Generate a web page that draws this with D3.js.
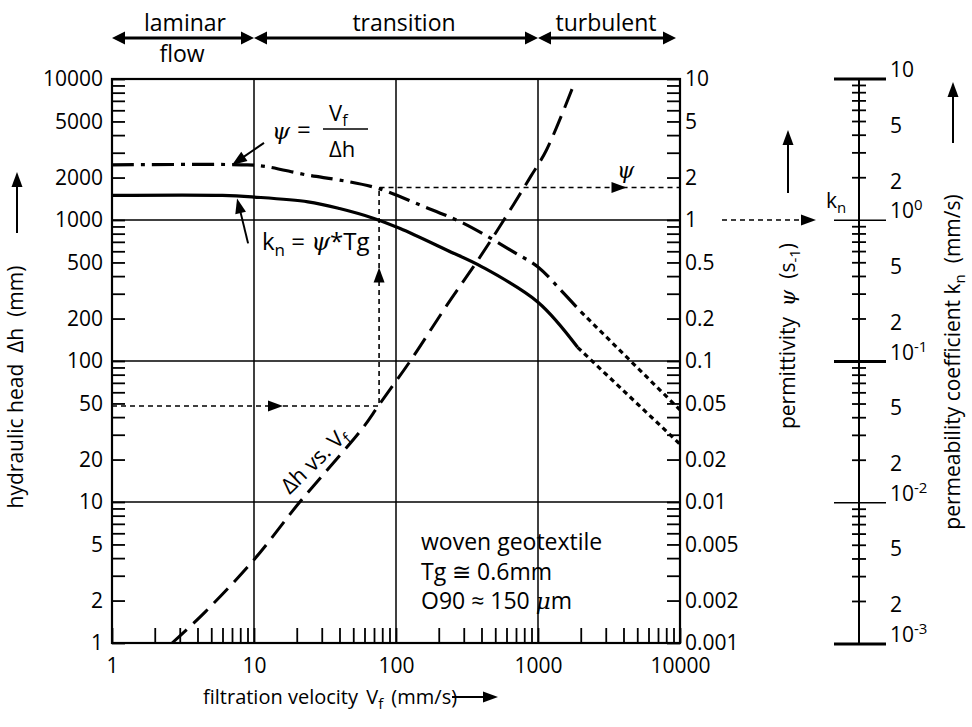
<!DOCTYPE html>
<html>
<head>
<meta charset="utf-8">
<script src="https://cdn.jsdelivr.net/npm/d3@7"></script>
<style>
  body { margin: 0; background: #fff; }
  svg { font-family: "Open Sans", sans-serif; }
  svg text { white-space: pre; }
</style>
</head>
<body>
<svg id="chart" width="972" height="727"></svg>
<script>
// ---- data ----
const velTicks = [1, 10, 100, 1000, 10000];
const headTicks = [10000, 5000, 2000, 1000, 500, 200, 100, 50, 20, 10, 5, 2, 1];
const psiTicks = [10, 5, 2, 1, 0.5, 0.2, 0.1, 0.05, 0.02, 0.01, 0.005, 0.002, 0.001];
const gridVel = [10, 100, 1000];
const gridHead = [10, 100, 1000];

const knDecades = [10, 1, 0.1, 0.01, 0.001];
const knDecadeSup = [null, "0", "-1", "-2", "-3"];
const knMidTicks = [5, 2, 0.5, 0.2, 0.05, 0.02, 0.005, 0.002];

const regionNames = ["laminar", "transition", "turbulent"];
const regionBounds = [1, 10, 1000, 10000];

// permeability kn = psi * Tg (mm/s), solid part then dotted tail
const knVel = [1, 6, 10, 24, 40, 70, 107, 229, 400, 1000, 1900];
const knVal = [1.50, 1.50, 1.46, 1.35, 1.21, 1.03, 0.873, 0.613, 0.47, 0.263, 0.126];
const knTailVel = [1900, 10000];
const knTailVal = [0.126, 0.026];

// permittivity psi (1/s), dash-dot part then dotted tail
const psiVel = [1, 9, 12, 24, 40, 74, 150, 297, 700, 1000, 1440, 2000];
const psiVal = [2.46, 2.46, 2.40, 2.08, 1.92, 1.68, 1.27, 0.95, 0.58, 0.465, 0.32, 0.224];
const psiTailVel = [2000, 10000];
const psiTailVal = [0.224, 0.045];

// hydraulic head vs filtration velocity (mm)
const dhVel = [2.65, 4.5, 10, 21, 31, 59, 75, 126, 229, 373, 575, 887, 1150, 1800];
const dhVal = [1, 1.65, 3.9, 10, 15.8, 34, 48, 100, 250, 510, 1000, 2030, 3150, 9300];

// worked example (dashed arrows)
const exVel = 76, exHead = 48, exPsi = 1.7;

// ---- scales ----
const x = d3.scaleLog().domain([1, 1e4]).range([112, 680]);
const yH = d3.scaleLog().domain([1, 1e4]).range([643, 79]);
const yP = d3.scaleLog().domain([1e-3, 10]).range([643, 79]);
const yK = d3.scaleLog().domain([1e-3, 10]).range([644, 79]);

const svg = d3.select("#chart");
svg.append("rect").attr("width", 972).attr("height", 727).attr("fill", "#fff");

function head(g, px, py, ang, len = 14, wid = 11) {
  g.append("path")
    .attr("d", `M0,0L${-len},${-wid / 2}L${-len},${wid / 2}Z`)
    .attr("transform", `translate(${px},${py}) rotate(${ang})`)
    .attr("fill", "#000");
}

const [x0, x1] = x.range();
const [y0, y1] = yH.range();

// ---- grid and frame ----
const grid = svg.append("g").attr("stroke", "#000").attr("stroke-width", 1.5);
grid.selectAll(".gv").data(gridVel).join("line")
  .attr("x1", d => x(d)).attr("x2", d => x(d)).attr("y1", y0).attr("y2", y1);
grid.selectAll(".gh").data(gridHead).join("line")
  .attr("y1", d => yH(d)).attr("y2", d => yH(d)).attr("x1", x0).attr("x2", x1);

svg.append("rect")
  .attr("x", x0).attr("y", y1).attr("width", x1 - x0).attr("height", y0 - y1)
  .attr("fill", "none").attr("stroke", "#000").attr("stroke-width", 2.2);

// ---- axis ticks (inward) ----
function tickStyle(sel) {
  sel.select(".domain").remove();
  sel.selectAll(".tick line").attr("stroke-width", 1.8);
}
svg.append("g").attr("transform", `translate(${x0},0)`)
  .call(d3.axisRight(yH).tickValues(yH.ticks()).tickSize(13).tickFormat(""))
  .call(tickStyle);
svg.append("g").attr("transform", `translate(${x1},0)`)
  .call(d3.axisLeft(yP).tickValues(yP.ticks()).tickSize(13).tickFormat(""))
  .call(tickStyle);
svg.append("g").attr("transform", `translate(0,${y0})`)
  .call(d3.axisTop(x).tickValues(x.ticks()).tickSize(15).tickFormat(""))
  .call(tickStyle);

// ---- tick labels ----
function labelStyle(sel) {
  sel.select(".domain").remove();
  sel.selectAll(".tick line").remove();
  sel.selectAll("text").attr("font-size", 21).attr("font-family", "Open Sans").attr("fill", "#000");
}
svg.append("g").attr("transform", `translate(${x0},0)`)
  .call(d3.axisLeft(yH).tickValues(headTicks).tickSize(0).tickPadding(9).tickFormat(d3.format("d")))
  .call(labelStyle);
svg.append("g").attr("transform", `translate(${x1},0)`)
  .call(d3.axisRight(yP).tickValues(psiTicks).tickSize(0).tickPadding(5).tickFormat(d => String(d)))
  .call(labelStyle);
svg.append("g").attr("transform", `translate(0,${y0})`)
  .call(d3.axisBottom(x).tickValues(velTicks).tickSize(0).tickPadding(15).tickFormat(d3.format("d")))
  .call(labelStyle);

// ---- curves ----
const lineOf = (ys) => d3.line().x(d => x(d[0])).y(d => ys(d[1])).curve(d3.curveCatmullRom.alpha(0.5));
const zip = (a, b) => a.map((v, i) => [v, b[i]]);

svg.append("path").datum(zip(knVel, knVal)).attr("d", lineOf(yK))
  .attr("fill", "none").attr("stroke", "#000").attr("stroke-width", 3.2);
svg.append("path").datum(zip(knTailVel, knTailVal)).attr("d", lineOf(yK))
  .attr("fill", "none").attr("stroke", "#000").attr("stroke-width", 3.2)
  .attr("stroke-dasharray", "5,4");

svg.append("path").datum(zip(psiVel, psiVal)).attr("d", lineOf(yP))
  .attr("fill", "none").attr("stroke", "#000").attr("stroke-width", 3.2)
  .attr("stroke-dasharray", "22,7,4,7");
svg.append("path").datum(zip(psiTailVel, psiTailVal)).attr("d", lineOf(yP))
  .attr("fill", "none").attr("stroke", "#000").attr("stroke-width", 3.2)
  .attr("stroke-dasharray", "5,4");

svg.append("path").datum(zip(dhVel, dhVal)).attr("d", lineOf(yH))
  .attr("fill", "none").attr("stroke", "#000").attr("stroke-width", 3)
  .attr("stroke-dasharray", "20,9");

// ---- worked example, dashed arrows ----
const ex = svg.append("g");
const exPath = [[1, exHead], [exVel, exHead], [exVel, exPsi * 1000], [1e4, exPsi * 1000]];
ex.append("path")
  .attr("d", d3.line().x(d => x(d[0])).y(d => yH(d[1]))(exPath))
  .attr("fill", "none").attr("stroke", "#000").attr("stroke-width", 1.6)
  .attr("stroke-dasharray", "5,4");
head(ex, x(16), yH(exHead), 0, 15, 11);
head(ex, x(exVel), yH(460), -90, 15, 11);
head(ex, x(4200), yH(exPsi * 1000), 0, 15, 11);
// to the kn scale
ex.append("line").attr("x1", 722).attr("x2", 806).attr("y1", yP(1)).attr("y2", yP(1))
  .attr("stroke", "#000").attr("stroke-width", 1.6).attr("stroke-dasharray", "5,4");
head(ex, 816, yP(1), 0, 15, 11);

svg.append("text").attr("x", 617).attr("y", yP(exPsi) - 10)
  .attr("font-family", "DejaVu Serif").attr("font-style", "italic").attr("font-size", 22)
  .text("ψ");

// ---- pointer annotations ----
const ann = svg.append("g");
{
  const tx = x(7), ty = yP(2.46);
  ann.append("line").attr("x1", tx + 32).attr("y1", ty - 22).attr("x2", tx + 8).attr("y2", ty - 5.5)
    .attr("stroke", "#000").attr("stroke-width", 2);
  head(ann, tx, ty, Math.atan2(22, -32) * 180 / Math.PI, 15, 11);
}
{
  const tx = x(7.6), ty = yK(1.5) + 3;
  ann.append("line").attr("x1", tx + 11).attr("y1", ty + 45).attr("x2", tx + 3).attr("y2", ty + 12)
    .attr("stroke", "#000").attr("stroke-width", 2);
  head(ann, tx, ty, Math.atan2(-45, -11) * 180 / Math.PI, 15, 11);
}

// psi = Vf / dh
const f = svg.append("g").attr("font-size", 24).attr("fill", "#000");
f.append("text").attr("x", 272).attr("y", 139).attr("font-family", "DejaVu Serif")
  .attr("font-style", "italic").attr("font-size", 23).text("ψ");
f.append("text").attr("x", 297).attr("y", 138).text("=");
f.append("line").attr("x1", 323).attr("x2", 368).attr("y1", 129).attr("y2", 129)
  .attr("stroke", "#000").attr("stroke-width", 1.6);
{
  const t = f.append("text").attr("x", 329).attr("y", 121).attr("font-size", 22);
  t.append("tspan").text("V");
  t.append("tspan").attr("dy", 5).attr("font-size", 16).text("f");
}
f.append("text").attr("x", 329).attr("y", 157).attr("font-size", 22).text("Δh");

// kn = psi * Tg
{
  const t = f.append("text").attr("x", 262).attr("y", 250);
  t.append("tspan").text("k");
  t.append("tspan").attr("dy", 6).attr("font-size", 17).text("n");
  t.append("tspan").attr("dy", -6).text(" = ");
  t.append("tspan").attr("font-family", "DejaVu Serif").attr("font-style", "italic").text("ψ");
  t.append("tspan").text("*Tg");
}

// dh vs Vf along curve
{
  const t = svg.append("text").attr("font-size", 22)
    .attr("text-anchor", "middle")
    .attr("transform", `translate(${x(29)},${yH(18)}) rotate(-44)`);
  t.append("tspan").text("Δh vs. V");
  t.append("tspan").attr("dy", 5).attr("font-size", 16).text("f");
}

// geotextile note
const note = svg.append("g").attr("font-size", 23);
note.append("text").attr("x", 421).attr("y", 550).text("woven geotextile");
note.append("text").attr("x", 421).attr("y", 580).text("Tg ≅ 0.6mm");
{
  const t = note.append("text").attr("x", 421).attr("y", 609);
  t.append("tspan").text("O90 ≈ 150 ");
  t.append("tspan").attr("font-family", "DejaVu Serif").attr("font-style", "italic").text("μ");
  t.append("tspan").text("m");
}

// ---- flow regimes on top ----
const regimeG = svg.append("g");
const ay = 38;
regionNames.forEach((name, i) => {
  const a = x(regionBounds[i]), b = x(regionBounds[i + 1]) - (i === 2 ? 4 : 0);
  regimeG.append("line").attr("x1", a + 6).attr("x2", b - 6).attr("y1", ay).attr("y2", ay)
    .attr("stroke", "#000").attr("stroke-width", 3);
  head(regimeG, a, ay, 180, 13, 13);
  head(regimeG, b, ay, 0, 13, 13);
});
const regimeText = regimeG.append("g").attr("font-size", 23).attr("text-anchor", "middle");
regimeText.append("text").attr("x", 185).attr("y", 31).text("laminar");
regimeText.append("text").attr("x", 182).attr("y", 62).text("flow");
regimeText.append("text").attr("x", 404).attr("y", 31).text("transition");
regimeText.append("text").attr("x", 606).attr("y", 31).text("turbulent");

// ---- axis titles ----
{
  const t = svg.append("text").attr("font-size", 20).attr("x", 203).attr("y", 704);
  t.append("tspan").text("filtration velocity ");
  t.append("tspan").attr("dx", 3).text("V");
  t.append("tspan").attr("dy", 5).attr("font-size", 15).text("f");
  t.append("tspan").attr("dy", -5).attr("dx", 3).text(" (mm/s)");
  svg.append("line").attr("x1", 452).attr("x2", 484).attr("y1", 697).attr("y2", 697)
    .attr("stroke", "#000").attr("stroke-width", 2);
  head(svg, 498, 697, 0, 15, 11);
}
{
  svg.append("text").attr("font-size", 21).attr("text-anchor", "middle")
    .attr("transform", "translate(23,387) rotate(-90)")
    .text("hydraulic head  Δh  (mm)");
  svg.append("line").attr("x1", 17).attr("x2", 17).attr("y1", 233).attr("y2", 186)
    .attr("stroke", "#000").attr("stroke-width", 2);
  head(svg, 17, 172, -90, 15, 11);
}
{
  const t = svg.append("text").attr("font-size", 21).attr("text-anchor", "middle")
    .attr("transform", "translate(795,336) rotate(-90)");
  t.append("tspan").text("permittivity  ");
  t.append("tspan").attr("font-family", "DejaVu Serif").attr("font-style", "italic").text("ψ");
  t.append("tspan").text("  (s");
  t.append("tspan").attr("dy", 5).attr("font-size", 15).text("-1");
  t.append("tspan").attr("dy", -5).text(")");
  svg.append("line").attr("x1", 788).attr("x2", 788).attr("y1", 193).attr("y2", 144)
    .attr("stroke", "#000").attr("stroke-width", 2);
  head(svg, 788, 130, -90, 15, 11);
}
{
  const t = svg.append("text").attr("font-size", 21).attr("text-anchor", "middle")
    .attr("transform", "translate(960,362) rotate(-90)");
  t.append("tspan").text("permeability coefficient k");
  t.append("tspan").attr("dy", 5).attr("font-size", 15).text("n");
  t.append("tspan").attr("dy", -5).text("  (mm/s)");
  svg.append("line").attr("x1", 953).attr("x2", 953).attr("y1", 143).attr("y2", 96)
    .attr("stroke", "#000").attr("stroke-width", 2);
  head(svg, 953, 82, -90, 15, 11);
}

// ---- kn scale on the far right ----
const ks = svg.append("g");
const kx = 859;
ks.append("line").attr("x1", kx).attr("x2", kx).attr("y1", yK(10)).attr("y2", yK(0.001))
  .attr("stroke", "#000").attr("stroke-width", 2);
ks.selectAll(".kd").data(knDecades).join("line")
  .attr("x1", kx - 25).attr("x2", kx + 27)
  .attr("y1", d => yK(d)).attr("y2", d => yK(d))
  .attr("stroke", "#000").attr("stroke-width", (d, i) => (i % 2 === 0 ? 3 : 1.5));
ks.selectAll(".km").data(yK.ticks().filter(d => !knDecades.some(k => Math.abs(k - d) < 1e-9)))
  .join("line")
  .attr("x1", kx - 7).attr("x2", kx + 7)
  .attr("y1", d => yK(d)).attr("y2", d => yK(d))
  .attr("stroke", "#000").attr("stroke-width", 1.8);
const kl = ks.append("g").attr("font-size", 21);
knDecades.forEach((d, i) => {
  const t = kl.append("text").attr("x", 890).attr("y", yK(d) - 2);
  t.append("tspan").text("10");
  if (knDecadeSup[i]) t.append("tspan").attr("dy", -8).attr("font-size", 15).text(knDecadeSup[i]);
});
kl.selectAll(".kmt").data(knMidTicks).join("text")
  .attr("x", 890).attr("y", d => yK(d) + 11)
  .text(d => String(d).replace(/^0\.0*/, ""));
{
  const t = ks.append("text").attr("x", 826).attr("y", 208).attr("font-size", 21);
  t.append("tspan").text("k");
  t.append("tspan").attr("dy", 5).attr("font-size", 15).text("n");
}
</script>
</body>
</html>
